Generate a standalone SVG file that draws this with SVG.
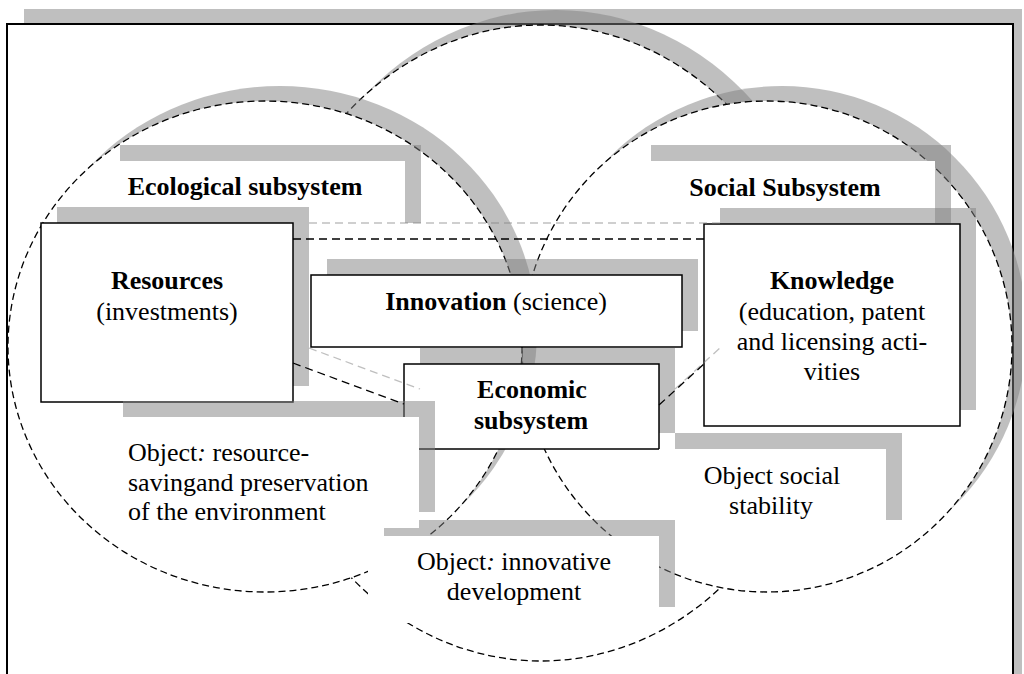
<svg xmlns="http://www.w3.org/2000/svg" width="1024" height="674" viewBox="0 0 1024 674">
  <defs>
    <style>
      .sh{fill:#808080;fill-opacity:.5}
      .pad{fill:#fff}
      .box{fill:#fff;stroke:#000;stroke-width:1.5}
      .ring{fill:#fff;stroke:#000;stroke-width:1.3;stroke-dasharray:7 4}
      .t{font-family:"Liberation Serif","Times New Roman",serif;font-size:26px;fill:#000}
      .c{text-anchor:middle}
      .b{font-weight:bold}
      .link{fill:none;stroke:#000;stroke-width:1.3;stroke-dasharray:8 5}
      .link-sh{fill:none;stroke:#808080;stroke-opacity:.5;stroke-width:1.3;stroke-dasharray:8 5}
    </style>
    <clipPath id="page"><rect x="0" y="0" width="1022" height="674"/></clipPath>
  </defs>

  <g clip-path="url(#page)">
    <!-- outer frame -->
    <g id="frame">
      <rect class="sh" x="24" y="9" width="998" height="700"/>
      <rect x="7" y="24" width="1006" height="700" fill="#fff" stroke="#000" stroke-width="2"/>
    </g>

    <!-- subsystem circles -->
    <g id="circle-innovation">
      <ellipse class="sh" cx="556" cy="328" rx="281" ry="318"/>
      <ellipse class="ring" cx="541" cy="343" rx="281" ry="318"/>
    </g>
    <g id="circle-social">
      <ellipse class="sh" cx="782" cy="331.5" rx="245" ry="245.5"/>
      <ellipse class="ring" cx="767" cy="346.5" rx="245" ry="245.5"/>
    </g>
    <g id="circle-ecological">
      <ellipse class="sh" cx="280" cy="331.5" rx="257" ry="245.5"/>
      <ellipse class="ring" cx="265" cy="346.5" rx="257" ry="245.5"/>
    </g>

    <!-- subsystem titles -->
    <g id="ecological-title">
      <rect class="sh" x="120" y="145" width="301" height="78"/>
      <rect class="pad" x="104" y="161" width="301" height="78"/>
      <text class="t c b" x="245" y="195">Ecological subsystem</text>
    </g>
    <g id="social-title">
      <rect class="sh" x="651" y="145" width="300" height="78"/>
      <rect class="pad" x="635" y="161" width="300" height="78"/>
      <text class="t c b" x="785" y="196">Social Subsystem</text>
    </g>

    <!-- framed nodes -->
    <g id="resources">
      <rect class="sh" x="57" y="207" width="252" height="179"/>
      <rect class="box" x="41" y="223" width="252" height="179"/>
      <text class="t c" x="167" y="289"><tspan class="b">Resources</tspan></text>
      <text class="t c" x="167" y="320">(investments)</text>
    </g>
    <g id="knowledge">
      <rect class="sh" x="720" y="208" width="256" height="202"/>
      <rect class="box" x="704" y="224" width="256" height="202"/>
      <text class="t c b" x="832" y="289">Knowledge</text>
      <text class="t c" x="832" y="320">(education, patent</text>
      <text class="t c" x="832" y="350">and licensing acti-</text>
      <text class="t c" x="832" y="380">vities</text>
    </g>
    <g id="innovation">
      <rect class="sh" x="327" y="259" width="371" height="72"/>
      <rect class="box" x="311" y="275" width="371" height="72"/>
      <text class="t c" x="496" y="310"><tspan class="b">Innovation</tspan> (science)</text>
    </g>
    <g id="economic">
      <rect class="sh" x="420" y="348" width="255" height="85"/>
      <rect class="box" x="404" y="364" width="255" height="85"/>
      <text class="t c b" x="532" y="398">Economic</text>
      <text class="t c b" x="531" y="429">subsystem</text>
    </g>

    <!-- objective notes -->
    <g id="object-social">
      <rect class="sh" x="675" y="433" width="227" height="87"/>
      <rect class="pad" x="659" y="449" width="227" height="87"/>
      <text class="t c" x="772" y="484">Object social</text>
      <text class="t c" x="771" y="514">stability</text>
    </g>
    <g id="object-innovative">
      <rect class="sh" x="384" y="520" width="291" height="87"/>
      <rect class="pad" x="368" y="536" width="291" height="87"/>
      <text class="t c" x="514" y="570">Object<tspan font-style="italic">:</tspan> innovative</text>
      <text class="t c" x="514" y="600">development</text>
    </g>
    <g id="object-ecological">
      <rect class="sh" x="123" y="401" width="312" height="111"/>
      <rect class="pad" x="107" y="417" width="312" height="111"/>
      <text class="t" x="128" y="461">Object<tspan font-style="italic">:</tspan> resource-</text>
      <text class="t" x="128" y="491">savingand preservation</text>
      <text class="t" x="128" y="520">of the environment</text>
    </g>
  </g>

  <!-- connectors -->
  <g id="connectors">
    <line class="link-sh" x1="309" y1="223" x2="720" y2="223"/>
    <line class="link" x1="293" y1="239" x2="704" y2="239"/>
    <line class="link-sh" x1="309" y1="348" x2="420" y2="389"/>
    <line class="link" x1="293" y1="363" x2="404" y2="404"/>
    <line class="link-sh" x1="675" y1="389" x2="720" y2="348"/>
    <line class="link" x1="659" y1="405" x2="704" y2="364"/>
  </g>
</svg>
